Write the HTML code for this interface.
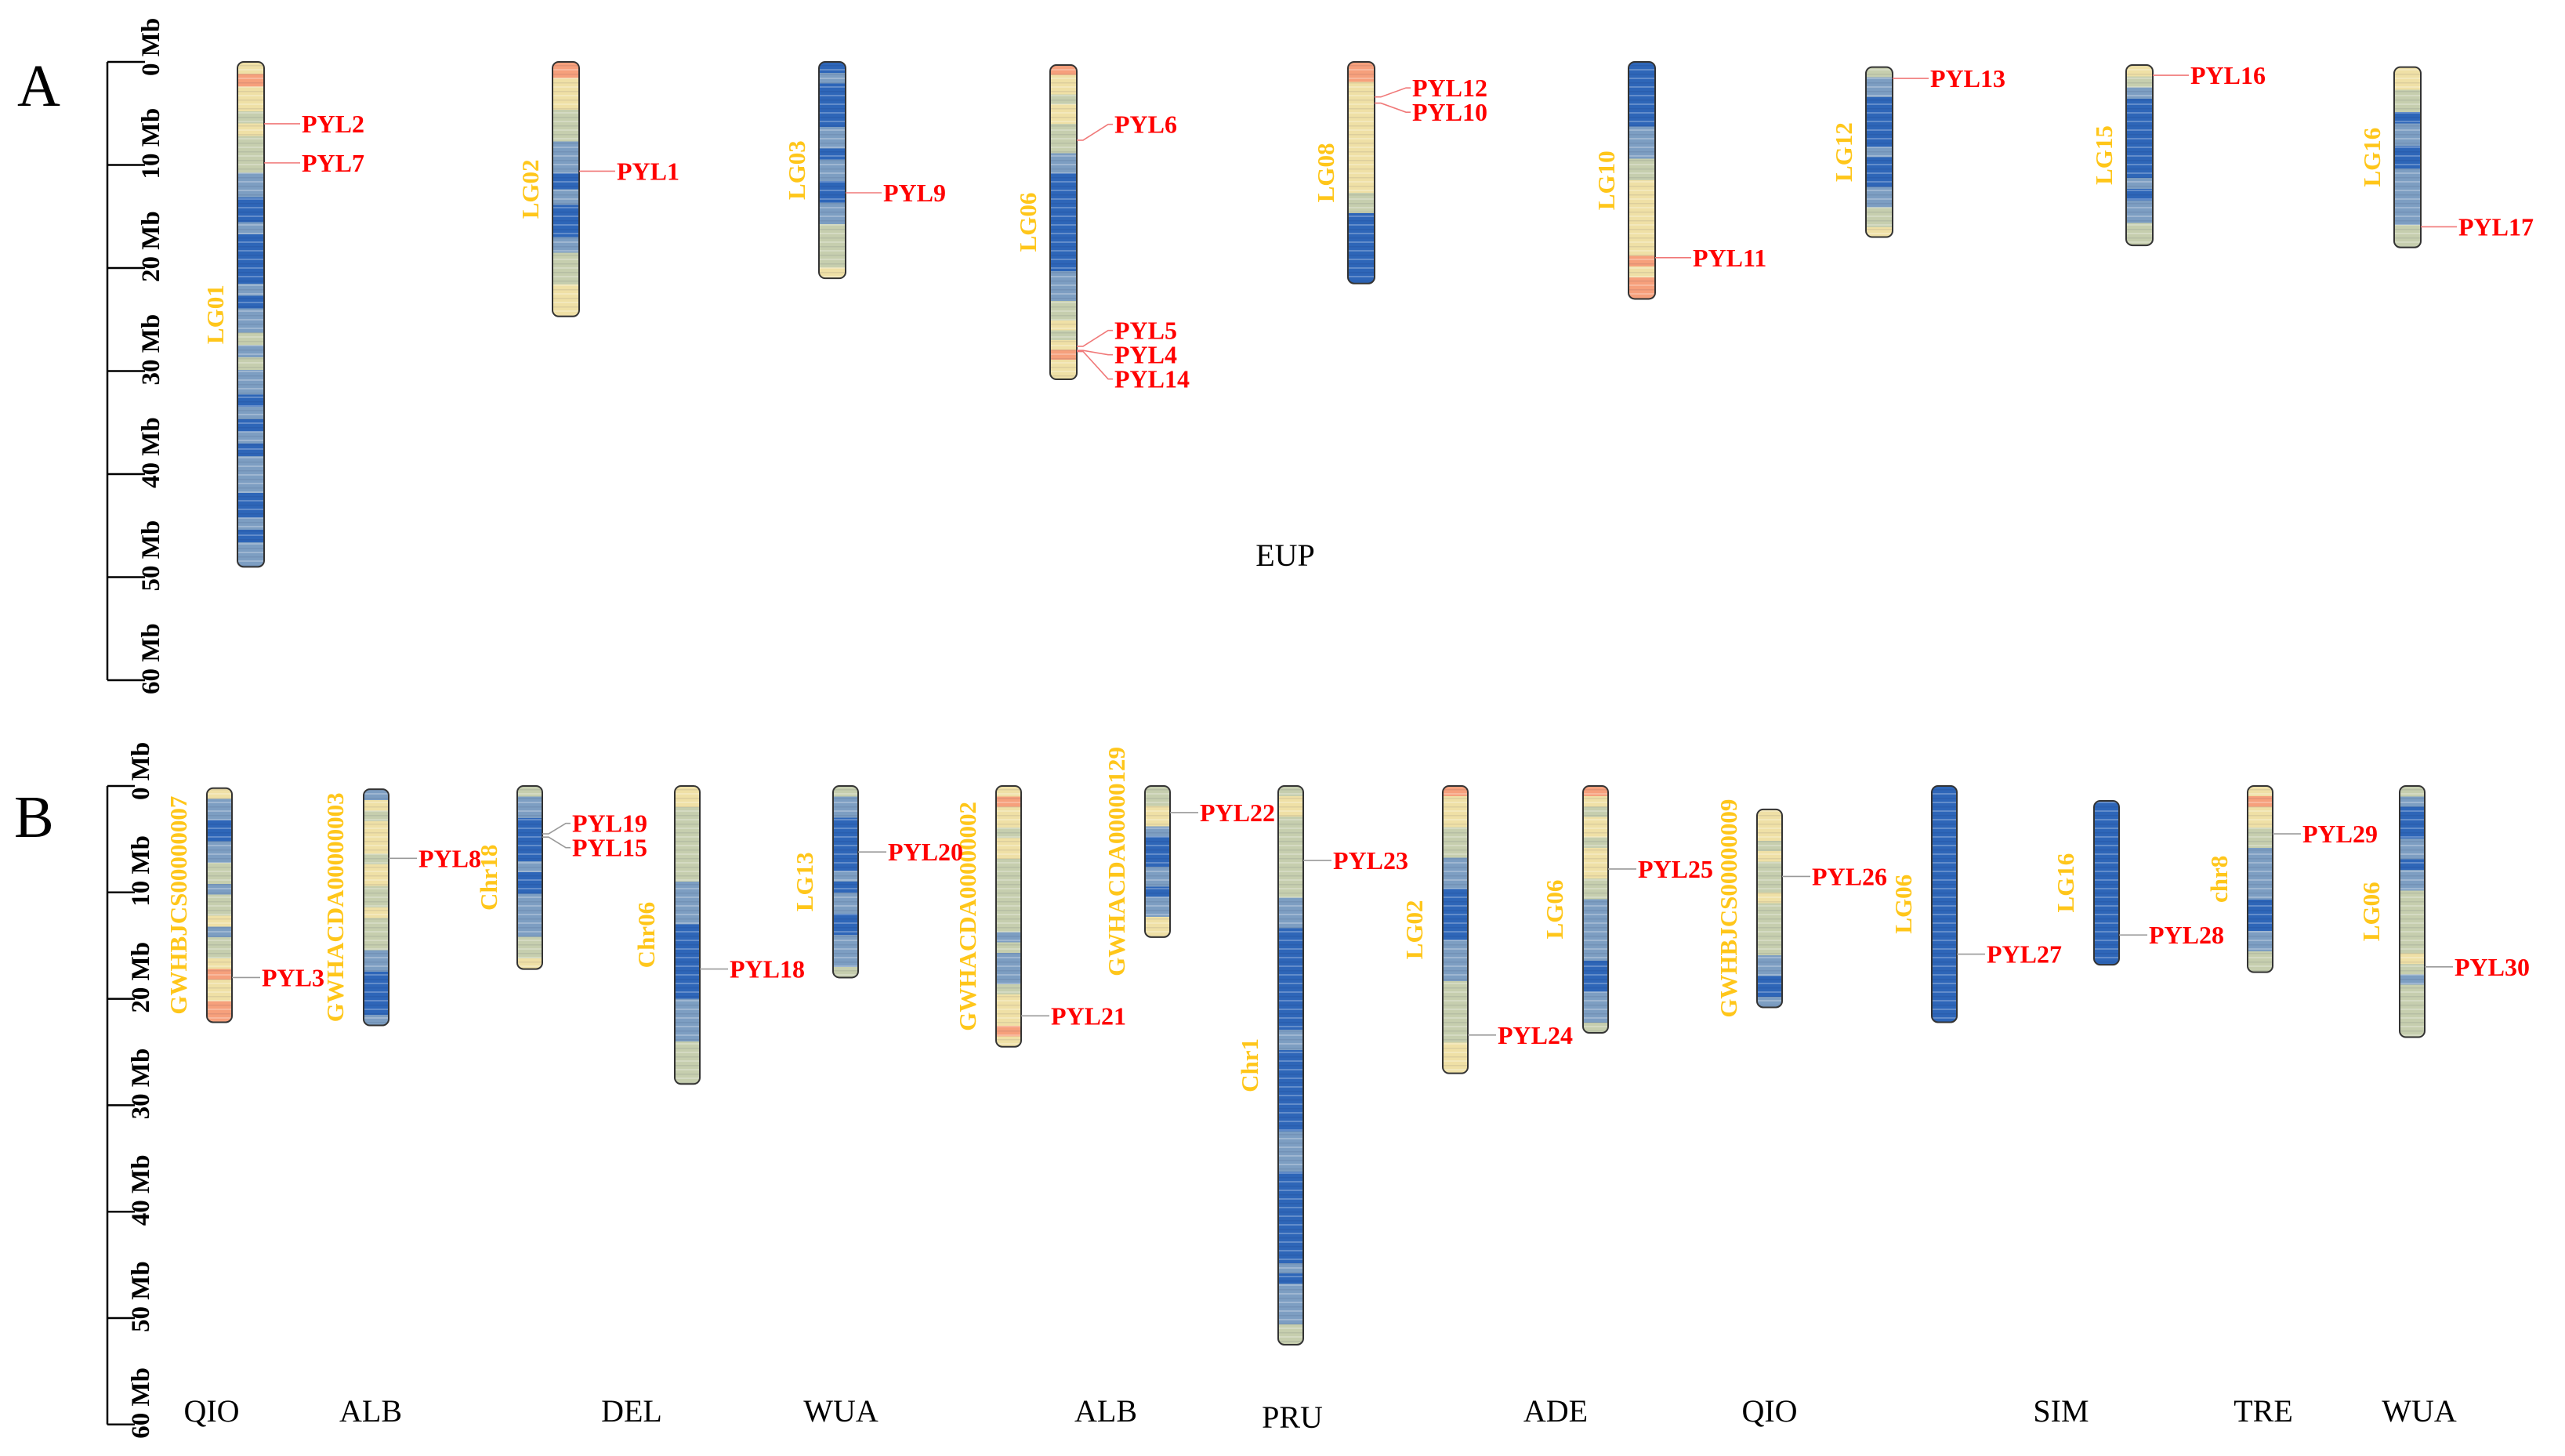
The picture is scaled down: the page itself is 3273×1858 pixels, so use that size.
<!DOCTYPE html>
<html><head><meta charset="utf-8"><style>
html,body{margin:0;padding:0;background:#fff;}
svg{display:block;font-family:"Liberation Serif",serif;}
</style></head><body>
<svg id="fig" width="3273" height="1858" viewBox="0 0 3273 1858" xmlns="http://www.w3.org/2000/svg">
<defs id="defs"></defs>
<text x="22" y="135" font-size="76" fill="#000">A</text>
<text x="18" y="1068" font-size="76" fill="#000">B</text>
<text x="1640" y="722" font-size="40" text-anchor="middle">EUP</text>
<g id="layer"></g>
</svg>
<script>
// ---- Axis ticks ----
const tickValues = [0,10,20,30,40,50,60];
const tickLabels = ["0 Mb","10 Mb","20 Mb","30 Mb","40 Mb","50 Mb","60 Mb"];

// ---- Panel A data ----
const chromNamesA = ["LG01","LG02","LG03","LG06","LG08","LG10","LG12","LG15","LG16"];
const chromStartA = [0,0,0,0.3,0,0,0.5,0.3,0.5];
const chromLenA = [49,24.7,21,30.5,21.5,23,16.5,17.5,17.5];
const chromXA = [320,722,1062,1357,1737,2095,2398,2730,3072];
const chromProfileA = [
"10112122233443444434332323343434333443433",
"0112233434432211",
"43444433433443322221",
"01121122233444444444433322121011",
"0011111111111224444444",
"4444443332211111110100",
"23344444344433221",
"1234444444343322",
"1122433443333322"];
const geneNamesA = ["PYL2","PYL7","PYL1","PYL9","PYL6","PYL5","PYL4","PYL14","PYL12","PYL10","PYL11","PYL13","PYL16","PYL17"];
const geneChromA = [0,0,1,2,3,3,3,3,4,4,5,6,7,8];
const genePosA = [6.0,9.8,10.6,12.7,7.6,27.6,28.0,28.1,3.4,4.0,19.0,1.6,1.3,16.0];

// ---- Panel B data ----
const chromNamesB = ["GWHBJCS00000007","GWHACDA00000003","Chr18","Chr06","LG13","GWHACDA00000002","GWHACDA00000129","Chr1","LG02","LG06","GWHBJCS00000009","LG06","LG16","chr8","LG06"];
const chromStartB = [0.2,0.3,0,0,0,0,0,0,0,0,2.2,0,1.4,0,0];
const chromLenB = [22.0,22.2,17.2,28,18,24.5,14.2,52.5,27,23.2,18.6,22.2,15.4,17.5,23.6];
const chromXB = [280,480,676,877,1079,1287,1477,1647,1857,2036,2258,2481,2688,2884,3078];
const chromProfileB = [
"1334433223221322101100",
"3121112112212223344443",
"23344443443333221",
"1122222223333444444433332222",
"233444443433443332",
"1011211222222232333211101",
"221134443343311",
"2112222222233344444444443344444444333344444444434333322",
"0111222333444443333222222111",
"012112111223333334443332",
"1112122212222233443",
"4444444444444444444444",
"4444444444444444",
"101122333334443322",
"234443343322222212322222"];
const speciesNamesB = ["QIO","ALB","DEL","WUA","ALB","PRU","ADE","QIO","SIM","TRE","WUA"];
const speciesXB = [270,473,806,1073,1411,1649,1985,2258,2630,2888,3087];
const geneNamesB = ["PYL3","PYL8","PYL19","PYL15","PYL18","PYL20","PYL21","PYL22","PYL23","PYL24","PYL25","PYL26","PYL27","PYL28","PYL29","PYL30"];
const geneChromB = [0,1,2,2,3,4,5,6,7,8,9,10,11,12,13,14];
const genePosB = [18.0,6.8,4.5,4.8,17.2,6.2,21.6,2.5,7.0,23.4,7.8,8.5,15.8,14.0,4.5,17.0];

// ---- scales ----
const yA = mb => 79 + mb*13.15;
const yB = mb => 1003 + mb*13.58;
const colors = ["#f6a07c","#efe0a6","#c6ceae","#7d9ec2","#2e66b8"];
const NS = "http://www.w3.org/2000/svg";
const layer = document.getElementById('layer');
const defs = document.getElementById('defs');
function mk(tag, attrs, parent){ const e=document.createElementNS(NS,tag); for(const k in attrs) e.setAttribute(k,attrs[k]); (parent||layer).appendChild(e); return e; }

const pat = mk('pattern',{id:'stripes',width:8,height:11,patternUnits:'userSpaceOnUse'},defs);
mk('rect',{x:0,y:0,width:8,height:2,fill:'#ffffff',opacity:0.25},pat);
mk('rect',{x:0,y:6,width:8,height:1.5,fill:'#000033',opacity:0.08},pat);

function axis(x0, tickLen, yf, labelX, prefix){
  const g = mk('g',{});
  
  
  mk('line',{x1:x0,y1:yf(0),x2:x0,y2:yf(60),stroke:'#000','stroke-width':2.5},g);
  tickValues.forEach((v,i)=>{
    const t = mk('line',{x1:x0,y1:yf(v),x2:x0+tickLen,y2:yf(v),stroke:'#000','stroke-width':2.5},g);
    
    
    const ty = yf(v)+18;
    const tx = mk('text',{x:labelX,y:ty,'font-size':33,'font-weight':'bold',transform:`rotate(-90 ${labelX} ${ty})`,'dominant-baseline':'central'},g);
    tx.textContent = tickLabels[i];
    
    
  });
}
axis(137,48,yA,193,'panel-a');
axis(137,35,yB,180,'panel-b');

let gid = 0;
function chromosome(name, cx, start, len, profile, yf, w, gap, prefix){
  const g = mk('g',{});
  
  
  const y0 = yf(start), y1 = yf(start+len);
  const id = 'cg'+(gid++);
  const lg = mk('linearGradient',{id:id,x1:0,y1:0,x2:0,y2:1},defs);
  const n = profile.length;
  for(let i=0;i<n;i++){
    const c = colors[+profile[i]];
    mk('stop',{offset:(i/n),'stop-color':c},lg);
    mk('stop',{offset:((i+1)/n),'stop-color':c},lg);
  }
  mk('rect',{x:cx-w/2,y:y0,width:w,height:y1-y0,rx:8,fill:`url(#${id})`},g);
  mk('rect',{x:cx-w/2,y:y0,width:w,height:y1-y0,rx:8,fill:'url(#stripes)'},g);
  mk('rect',{x:cx-w/2,y:y0,width:w,height:y1-y0,rx:8,fill:'none',stroke:'#333','stroke-width':2},g);
  const lx = cx - w/2 - gap, ly = (y0+y1)/2;
  const t = mk('text',{x:lx,y:ly,'font-size':31,'font-weight':'bold',fill:'#ffc61a','text-anchor':'middle',transform:`rotate(-90 ${lx} ${ly})`},g);
  t.textContent = name;
  
  
}
chromNamesA.forEach((n,i)=>chromosome(n,chromXA[i],chromStartA[i],chromLenA[i],chromProfileA[i],yA,34,18,'panel-a'));
chromNamesB.forEach((n,i)=>chromosome(n,chromXB[i],chromStartB[i],chromLenB[i],chromProfileB[i],yB,32,26,'panel-b'));

function genes(names, chromIdx, pos, xs, yf, w, off, lineColor, prefix){
  const byChrom = {};
  names.forEach((n,i)=>{ (byChrom[chromIdx[i]] = byChrom[chromIdx[i]]||[]).push(i); });
  Object.keys(byChrom).forEach(k=>{
    const idx = byChrom[k].sort((a,b)=>pos[a]-pos[b]);
    const ys = idx.map(i=>yf(pos[i]));
    const ly = ys.slice();
    for(let j=1;j<ly.length;j++) if(ly[j]-ly[j-1]<31) ly[j]=ly[j-1]+31;
    const shift = (ys.reduce((a,b)=>a+b,0)-ly.reduce((a,b)=>a+b,0))/ly.length;
    if(ly.length>1) for(let j=0;j<ly.length;j++) ly[j]+=shift;
    idx.forEach((i,j)=>{
      const x0 = xs[chromIdx[i]] + w/2;
      const g = mk('g',{});
      
      
      mk('polyline',{points:`${x0},${ys[j]} ${x0+8},${ys[j]} ${x0+off-8},${ly[j]} ${x0+off-2},${ly[j]}`,fill:'none',stroke:lineColor,'stroke-width':1.6},g);
      const t = mk('text',{x:x0+off,y:ly[j]+11,'font-size':32,'font-weight':'bold',fill:'#ff0000'},g);
      t.textContent = names[i];
    });
  });
}
genes(geneNamesA,geneChromA,genePosA,chromXA,yA,34,48,'#f07878','panel-a');
genes(geneNamesB,geneChromB,genePosB,chromXB,yB,32,38,'#999999','panel-b');

speciesNamesB.forEach((s,i)=>{
  const t = mk('text',{x:speciesXB[i],y:(s==="PRU"?1822:1814),'font-size':40,'text-anchor':'middle'});
  t.textContent = s;
  
  
});
</script>
</body></html>
